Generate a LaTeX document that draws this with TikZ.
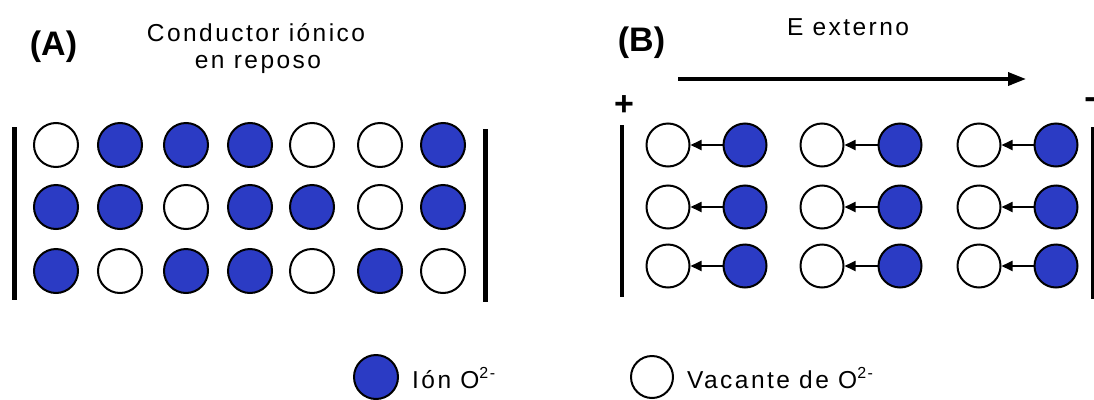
\documentclass[tikz,border=0pt]{standalone}
\usepackage{fontspec}
\setmainfont{Liberation Sans}
\newfontfamily\lsfont[LetterSpace=10]{Liberation Sans}
\usetikzlibrary{arrows.meta}
\definecolor{ionblue}{RGB}{43,59,196}
\newcommand{\supr}[1]{\raisebox{0.40em}{\fontsize{16}{16}\selectfont #1}}
\begin{document}
\begin{tikzpicture}[x=1pt,y=-1pt,
  ion/.style={circle,draw=black,line width=2pt,fill=ionblue,minimum size=44pt,inner sep=0pt},
  vac/.style={circle,draw=black,line width=2pt,fill=white,minimum size=44pt,inner sep=0pt},
  ionb/.style={circle,draw=black,line width=2pt,fill=ionblue,minimum size=43pt,inner sep=0pt},
  vacb/.style={circle,draw=black,line width=2pt,fill=white,minimum size=43pt,inner sep=0pt},
  bar/.style={line width=4.5pt},
  hop/.style={line width=1.8pt,-{Triangle[length=11pt,width=10pt]}},
  lbl/.style={font=\lsfont\fontsize{24.5}{28}\selectfont,inner sep=0pt},
  blbl/.style={font=\fontsize{34}{36}\selectfont\bfseries,inner sep=0pt}]
\useasboundingbox (0,0) rectangle (1094,399);
% Panel A
\node[blbl,anchor=base] (lA) at (53.5,55) {(A)};
\node[lbl,anchor=base] (tA1) at (256,41) {Conductor iónico};
\node[lbl,anchor=base] (tA2) at (258,68) {en reposo};
\coordinate (aL1) at (14.5,127); \coordinate (aL2) at (14.5,300);
\coordinate (aR1) at (485.5,129); \coordinate (aR2) at (485.5,302);
\draw[bar] (aL1) -- (aL2);
\draw[bar] (aR1) -- (aR2);
\foreach \r/\y/\pat in {1/145/{0,1,1,1,0,0,1},2/207/{1,1,0,1,1,0,1},3/271/{1,0,1,1,0,1,0}}{
  \foreach \x [count=\c] in {56,120,186,250,312,380,443}{
    \pgfmathsetmacro{\v}{{\pat}[\c-1]}
    \ifdim\v pt>0.5pt
      \node[ion] (a\r\c) at (\x,\y) {};
    \else
      \node[vac] (a\r\c) at (\x,\y) {};
    \fi
  }
}
% Panel B
\node[blbl,anchor=base] (lB) at (641.5,51) {(B)};
\node[lbl,anchor=base] (tE) at (848,35) {E externo};
\coordinate (e1) at (678,79); \coordinate (e2) at (1026,79);
\draw[line width=3.5pt,-{Triangle[length=18pt,width=13pt]}] (e1) -- (e2);
\node[blbl] (plus) at (624,106) {+};
\node[blbl] (minus) at (1090,103) {-};
\coordinate (bL1) at (622,125); \coordinate (bL2) at (622,297);
\coordinate (bR1) at (1092.5,127); \coordinate (bR2) at (1092.5,299);
\draw[bar] (bL1) -- (bL2);
\draw[line width=3pt] (bR1) -- (bR2);
\foreach \r/\y in {1/145,2/207,3/266}{
  \foreach \wx/\bx [count=\c] in {668/745,822/900,979/1056}{
    \node[vacb] (w\r\c) at (\wx,\y) {};
    \node[ionb] (b\r\c) at (\bx,\y) {};
    \draw[hop] (b\r\c.west) -- (w\r\c.east);
  }
}
% Legend
\node[ion] (legI) at (376,377) {};
\node[lbl,anchor=base west] (legIt) at (412,388) {Ión O\supr{2-}};
\node[vac,minimum size=42pt] (legV) at (652,377) {};
\node[lbl,anchor=base west] (legVt) at (687,388) {Vacante de O\supr{2-}};
\end{tikzpicture}
\end{document}
